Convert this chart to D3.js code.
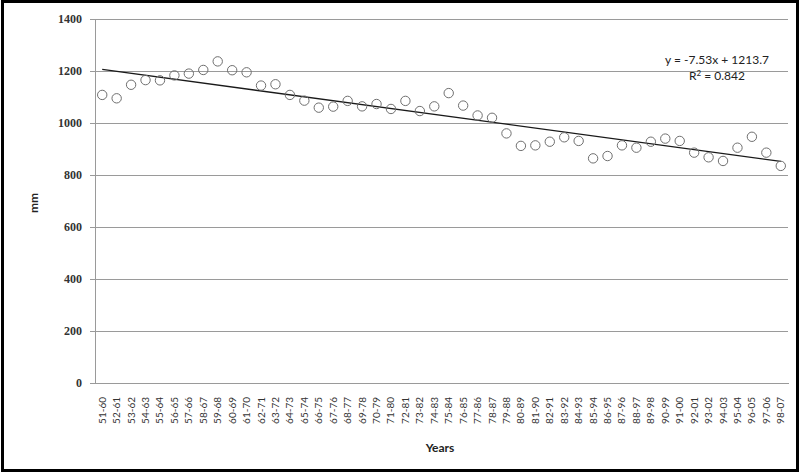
<!DOCTYPE html>
<html>
<head>
<meta charset="utf-8">
<script src="https://cdn.jsdelivr.net/npm/d3@7"></script>
<style>
  html, body { margin: 0; padding: 0; background: #fff; }
  svg { display: block; }
</style>
</head>
<body>
<svg id="chart" width="800" height="473"></svg>
<script>
// Ten-year moving periods
const periods = [
  "51-60","52-61","53-62","54-63","55-64","56-65","57-66","58-67","59-68","60-69",
  "61-70","62-71","63-72","64-73","65-74","66-75","67-76","68-77","69-78","70-79",
  "71-80","72-81","73-82","74-83","75-84","76-85","77-86","78-87","79-88","80-89",
  "81-90","82-91","83-92","84-93","85-94","86-95","87-96","88-97","89-98","90-99",
  "91-00","92-01","93-02","94-03","95-04","96-05","97-06","98-07"
];

// Mean rainfall for each period (mm)
const rainfall = [
  1108, 1095, 1147, 1165, 1164, 1183, 1190, 1204, 1237, 1203,
  1195, 1144, 1149, 1108, 1086, 1059, 1063, 1085, 1064, 1073,
  1054, 1085, 1046, 1064, 1115, 1067, 1029, 1020, 960, 912,
  914, 928, 945, 931, 864, 873, 914, 905, 928, 940,
  931, 886, 868, 854, 905, 947, 886, 835
];

const yTicks = [0, 200, 400, 600, 800, 1000, 1200, 1400];

// Linear trend fitted over period index (1..n)
const trendSlope = -7.53;
const trendIntercept = 1213.7;
const trendLabel = "y = -7.53x + 1213.7";
const r2Value = "0.842";

const svg = d3.select("#chart");
const W = 800, H = 473;
const plot = { left: 95, right: 788, top: 19, bottom: 383 };

// outer frame
svg.append("rect")
  .attr("x", 2.5).attr("y", 1.5)
  .attr("width", W - 5).attr("height", H - 4)
  .attr("fill", "#fff")
  .attr("stroke", "#000")
  .attr("stroke-width", 3);

const x = d3.scaleBand()
  .domain(periods)
  .range([plot.left, plot.right]);

const y = d3.scaleLinear()
  .domain([0, 1400])
  .range([plot.bottom, plot.top]);

// horizontal gridlines
svg.append("g")
  .selectAll("line")
  .data(yTicks.filter(d => d > 0))
  .join("line")
  .attr("x1", plot.left).attr("x2", plot.right)
  .attr("y1", d => y(d)).attr("y2", d => y(d))
  .attr("stroke", "#9a9a9a")
  .attr("stroke-width", 1)
  .attr("shape-rendering", "crispEdges");

// y axis
const yAxis = svg.append("g")
  .attr("transform", `translate(${plot.left},0)`)
  .call(d3.axisLeft(y).tickValues(yTicks).tickSize(5).tickPadding(8).tickFormat(d3.format("d")));
yAxis.select(".domain").attr("stroke", "#9a9a9a").attr("shape-rendering", "crispEdges");
yAxis.selectAll(".tick line").attr("stroke", "#9a9a9a").attr("shape-rendering", "crispEdges");
yAxis.selectAll(".tick text")
  .attr("font-family", "'Liberation Serif', serif")
  .attr("font-size", 12)
  .attr("font-weight", "bold")
  .attr("fill", "#333");

// x axis
const xAxis = svg.append("g")
  .attr("transform", `translate(0,${plot.bottom})`)
  .call(d3.axisBottom(x).tickSize(0).tickPadding(0));
xAxis.select(".domain").attr("stroke", "#9a9a9a").attr("shape-rendering", "crispEdges");
xAxis.selectAll(".tick text")
  .attr("font-family", "Lato, 'Open Sans', sans-serif")
  .attr("font-size", 10)
  .attr("fill", "#333")
  .attr("text-anchor", "end")
  .attr("dy", "0.35em")
  .attr("transform", "translate(0,14) rotate(-90)")
  .attr("x", 0).attr("y", 0);

// axis titles
svg.append("text")
  .attr("transform", `translate(38,${(plot.top + plot.bottom) / 2 + 2}) rotate(-90)`)
  .attr("text-anchor", "middle")
  .attr("font-family", "Lato, sans-serif")
  .attr("font-size", 12)
  .attr("font-weight", "bold")
  .attr("fill", "#222")
  .text("mm");

svg.append("text")
  .attr("x", 440).attr("y", 452)
  .attr("text-anchor", "middle")
  .attr("font-family", "Lato, sans-serif")
  .attr("font-size", 12)
  .attr("font-weight", "bold")
  .attr("fill", "#222")
  .text("Years");

// trend line
const cx = d => x(d) + x.bandwidth() / 2;
const trendAt = i => trendIntercept + trendSlope * (i + 1);
const firstIdx = 0, lastIdx = periods.length - 1;
svg.append("line")
  .attr("x1", cx(periods[firstIdx])).attr("y1", y(trendAt(firstIdx)))
  .attr("x2", cx(periods[lastIdx])).attr("y2", y(trendAt(lastIdx)))
  .attr("stroke", "#1a1a1a")
  .attr("stroke-width", 1.3);

// observation markers
svg.append("g")
  .selectAll("circle")
  .data(rainfall)
  .join("circle")
  .attr("cx", (d, i) => cx(periods[i]))
  .attr("cy", d => y(d))
  .attr("r", 4.7)
  .attr("fill", "none")
  .attr("stroke", "#6f6f6f")
  .attr("stroke-width", 1);

// trend equation
const eq = svg.append("g")
  .attr("font-family", "Lato, sans-serif")
  .attr("font-size", 12)
  .attr("fill", "#222")
  .attr("text-anchor", "middle");
eq.append("text").attr("x", 717).attr("y", 64).text(trendLabel);
const r2 = eq.append("text").attr("x", 717).attr("y", 80);
r2.append("tspan").text("R");
r2.append("tspan").attr("dy", -4).attr("font-size", 8).text("2");
r2.append("tspan").attr("dy", 4).text(" = " + r2Value);
</script>
</body>
</html>
